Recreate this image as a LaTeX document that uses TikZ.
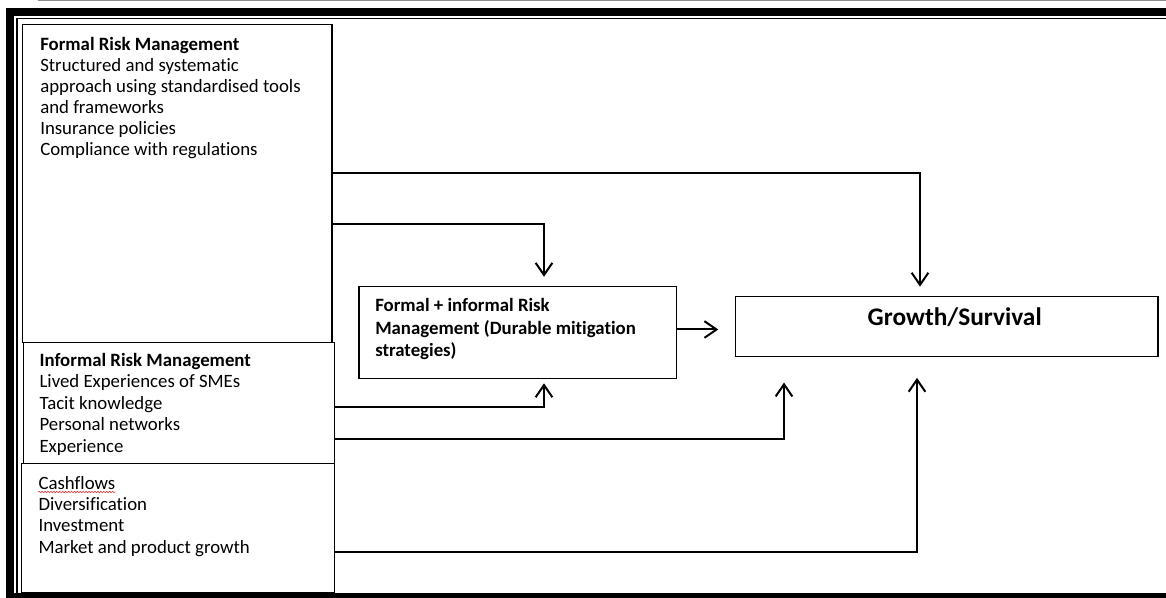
\documentclass[tikz,border=0pt]{standalone}
\usepackage{fontspec}
\setmainfont{Carlito}[Ligatures=NoCommon]
\usetikzlibrary{arrows.meta, calc, decorations.pathmorphing}
\definecolor{FrameGray}{HTML}{8C8C8C}
\definecolor{SpellRed}{HTML}{E03C3C}
\tikzset{
  panel/.style={draw=black, line width=0.9pt, anchor=north west, inner sep=0pt},
  bodytext/.style={anchor=base west, align=left, inner sep=0pt, font=\fontsize{14.1}{#1}\selectfont},
  boldtext/.style={anchor=base west, align=left, inner sep=0pt, font=\bfseries\fontsize{14.1}{#1}\selectfont},
  headtext/.style={anchor=base, inner sep=0pt, font=\bfseries\fontsize{19}{21}\selectfont},
  arrow/.style={-{Straight Barb[length=3.2mm, width=4.4mm]}, line width=1.5pt, draw=black}
}

\begin{document}
\begin{tikzpicture}[x=0.75pt, y=-0.75pt]
\useasboundingbox (0,0) rectangle (1166,598);
\clip (0,0) rectangle (1166,598);
% page frame
\draw[FrameGray, line width=0.8pt] (38,0.6) -- (1170,0.6);
\draw[line width=6pt] (1180,12) -- (10,12) -- (10,597) -- (1180,597);
\draw[line width=0.8pt] (1180,18.7) -- (17,18.7) -- (17,593);

% boxes
\node[panel, minimum width=232pt, minimum height=238.5pt] (formal) at (22,24) {};
\node[panel, minimum width=233.3pt, minimum height=90.8pt] (informal) at (23,342) {};
\node[panel, minimum width=234.8pt, minimum height=96.4pt] (cash) at (21,463) {};
\node[panel, minimum width=238pt, minimum height=69pt] (mixed) at (358.3,285.7) {};
\node[panel, minimum width=317pt, minimum height=45pt] (growth) at (734.7,296) {};

% texts (base = last line)
\node[bodytext=15.8] (formaltext) at (40,156) {\textbf{Formal Risk Management}\\Structured and systematic\\approach using standardised tools\\and frameworks\\Insurance policies\\Compliance with regulations};
\node[bodytext=16.1] (informaltext) at (39.3,452) {\textbf{Informal Risk Management}\\Lived Experiences of SMEs\\Tacit knowledge\\Personal networks\\Experience};
\node[bodytext=16] (cashtext) at (38.3,553.3) {Cashflows\\Diversification\\Investment\\Market and product growth};
\node[boldtext=16.9] (mixedtext) at (375,356.7) {Formal + informal Risk\\Management (Durable mitigation\\strategies)};
\node[headtext] (growthtext) at (954.7,325.7) {Growth/Survival};
\draw[SpellRed, line width=0.5pt, decorate, decoration={snake, amplitude=0.5pt, segment length=2.2pt}] (38.3,492) -- ++(77,0);

% bends
\coordinate (f1) at (920,173);
\coordinate (f2) at (544,224);
\coordinate (i1) at (544,407);
\coordinate (i2) at (784,439);
\coordinate (c1) at (917,552);
\coordinate (m1) at (700,329.5);

% connectors
\draw[arrow, shorten >=7pt] (formal.east |- f1) -| (growth.north -| f1);
\draw[arrow, shorten >=6.7pt] (formal.east |- f2) -| (mixed.north -| f2);
\draw[arrow, shorten >=3.3pt] (informal.east |- i1) -| (mixed.south -| i1);
\draw[arrow, shorten >=19pt] (informal.east |- i2) -| (growth.south -| i2);
\draw[arrow, shorten >=15.5pt] (cash.east |- c1) -| (growth.south -| c1);
\draw[arrow, shorten >=12.3pt] (mixed.east |- m1) -- (growth.west |- m1);
\end{tikzpicture}
\end{document}
